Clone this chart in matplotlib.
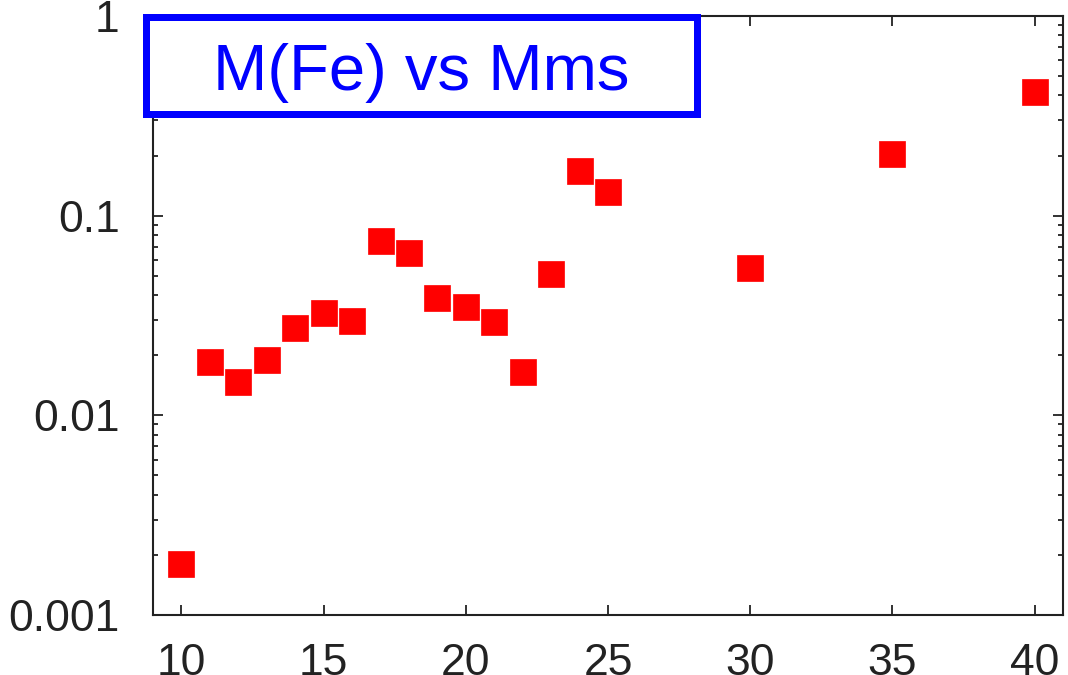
import matplotlib
matplotlib.use("Agg")
import matplotlib.pyplot as plt
from matplotlib.patches import Rectangle
from matplotlib.ticker import LogLocator, FixedLocator, FixedFormatter, NullFormatter

plt.rcParams['font.family'] = ['Liberation Sans', 'DejaVu Sans']

mass = [10, 11, 12, 13, 14, 15, 16, 17, 18, 19, 20, 21, 22, 23, 24, 25, 30, 35, 40]
m_fe = [0.00181, 0.0185, 0.0147, 0.0189, 0.0273, 0.0327, 0.0298, 0.0750, 0.0652,
        0.0387, 0.0348, 0.0293, 0.0164, 0.0512, 0.1667, 0.1315, 0.0547, 0.2028, 0.418]
x_ticks = [10, 15, 20, 25, 30, 35, 40]
y_ticks = [0.001, 0.01, 0.1, 1]
y_tick_labels = ['0.001', '0.01', '0.1', '1']
title = 'M(Fe) vs Mms'

W, H = 1068, 675
fig = plt.figure(figsize=(W / 100, H / 100), dpi=100)
ax = fig.add_axes([153 / W, 1 - 615 / H, (1063 - 153) / W, (615 - 16) / H])

ax.plot(mass, m_fe, linestyle='none', marker='s', markersize=18.7,
        color='#ff0000', markeredgecolor='#ff0000', markeredgewidth=0.5)

ax.set_yscale('log')
ax.set_xlim(9, 41)
ax.set_ylim(0.001, 1)
ax.xaxis.set_major_locator(FixedLocator(x_ticks))
ax.yaxis.set_major_locator(FixedLocator(y_ticks))
ax.yaxis.set_major_formatter(FixedFormatter(y_tick_labels))
ax.yaxis.set_minor_locator(LogLocator(base=10, subs=range(2, 10)))
ax.yaxis.set_minor_formatter(NullFormatter())

for s in ax.spines.values():
    s.set_linewidth(1.5)
    s.set_color('#222222')

ax.tick_params(which='both', direction='in', top=True, right=True, colors='#222222')
ax.tick_params(which='major', length=7, width=1.3, labelsize=32)
ax.tick_params(which='minor', length=3.5, width=1.3)
ax.tick_params(axis='y', which='major', pad=24)
ax.tick_params(axis='x', which='major', pad=20)

# title box
lw_px = 7
rect = Rectangle((145.5 / W, 1 - 113.5 / H), (696.5 - 145.5) / W, (113.5 - 16.5) / H,
                 transform=fig.transFigure, facecolor='white', edgecolor='#0000ff',
                 linewidth=lw_px * 0.72, zorder=10)
fig.add_artist(rect)
fig.text(421.5 / W, 1 - 90 / H, title, ha='center', va='baseline', fontsize=47,
         color='#0000ff', zorder=11)

fig.savefig('out.png', dpi=100)
